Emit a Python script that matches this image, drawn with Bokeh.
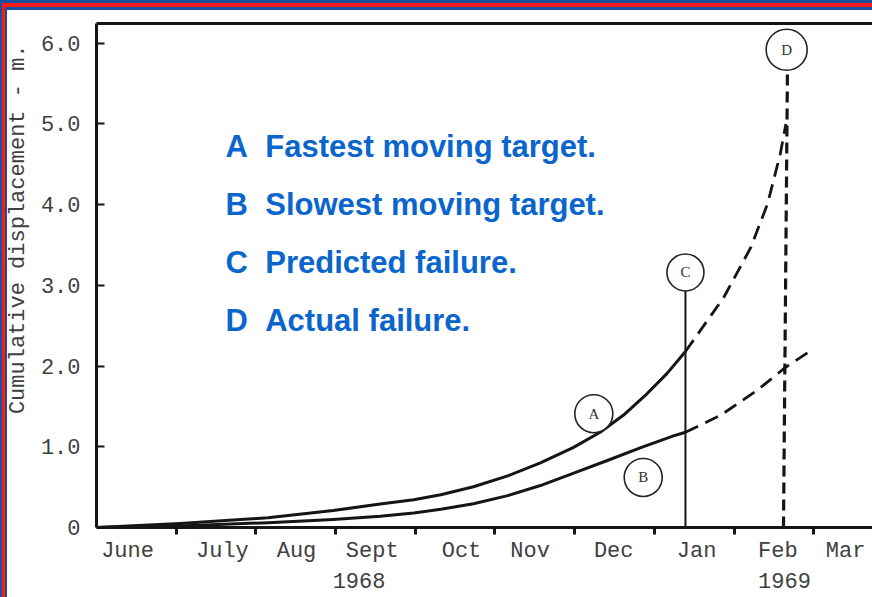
from bokeh.plotting import figure
from bokeh.models import FixedTicker, LinearAxis, Label, Range1d
from bokeh.core.properties import value
from bokeh.embed import file_html
from bokeh.resources import INLINE

# ---------------- data ----------------
months = ["June", "July", "Aug", "Sept", "Oct", "Nov", "Dec", "Jan", "Feb", "Mar"]
month_label_pos = [0.39, 1.58, 2.51, 3.46, 4.58, 5.44, 6.49, 7.53, 8.55, 9.40]
month_bounds = [1, 2, 3, 4, 5, 6, 7, 8, 9]
year_under = {"Sept": "1968\u00a0\u00a0", "Feb": "\u00a01969"}

y_ticks = [0, 1, 2, 3, 4, 5, 6]
y_tick_labels = ["0", "1.0", "2.0", "3.0", "4.0", "5.0", "6.0"]
y_title = "Cumulative displacement - m."

# Curve A (fastest moving target), measured
a_x = [0, 1.05, 2.15, 2.97, 3.56, 3.98, 4.32, 4.73, 5.16, 5.57, 5.98, 6.32, 6.61, 6.91, 7.16, 7.39]
a_y = [0, 0.05, 0.12, 0.21, 0.29, 0.345, 0.405, 0.505, 0.64, 0.80, 0.99, 1.18, 1.39, 1.66, 1.91, 2.18]
# Curve A extrapolated (dashed)
a_ext_x = [7.39, 7.87, 8.21, 8.42, 8.58, 8.65]
a_ext_y = [2.18, 2.85, 3.47, 4.01, 4.63, 5.00]

# Curve B (slowest moving target), measured
b_x = [0, 1.05, 2.15, 2.97, 3.56, 3.98, 4.32, 4.73, 5.16, 5.57, 5.98, 6.41, 6.83, 7.24, 7.39]
b_y = [0, 0.02, 0.06, 0.10, 0.14, 0.18, 0.225, 0.295, 0.395, 0.52, 0.67, 0.83, 0.99, 1.135, 1.18]
# Curve B extrapolated (dashed)
b_ext_x = [7.39, 7.83, 8.29, 8.64, 8.93]
b_ext_y = [1.18, 1.39, 1.70, 1.98, 2.17]

# C: predicted failure, D: actual failure
c_line_x = [7.39, 7.39]
c_line_y = [0, 2.94]
d_line_x = [8.62, 8.67]
d_line_y = [0, 5.68]

marker_text = ["A", "B", "C", "D"]
marker_x = [6.24, 6.86, 7.39, 8.66]
marker_y = [1.41, 0.62, 3.16, 5.92]
marker_size = [38, 38, 37, 41]

legend_lines = ["A\u00a0\u00a0Fastest moving target.", "B\u00a0\u00a0Slowest moving target.",
                "C\u00a0\u00a0Predicted failure.", "D\u00a0\u00a0Actual failure."]
legend_y = [4.72, 4.00, 3.28, 2.565]

# ---------------- figure ----------------
INK = "#151515"
TYPE = "#404040"
MONO = "Liberation Mono"
BLUE_FRAME = "#1a4f9e"
RED_FRAME = "#ff1a1a"

p = figure(width=872, height=597, x_range=Range1d(0, 9.737), y_range=Range1d(0, 6.245),
           output_backend="svg", toolbar_location=None,
           min_border_left=96, min_border_right=0, min_border_top=23, min_border_bottom=70)
p.outline_line_color = None
p.grid.visible = False
p.background_fill_color = "white"
p.border_fill_color = None

p.styles = {
    "background-color": "white",
    "box-shadow": (f"inset 2px 0 0 0 {BLUE_FRAME}, inset 0 3px 0 0 {BLUE_FRAME}, "
                   f"inset 5px 0 0 0 {RED_FRAME}, inset 0 7px 0 0 {RED_FRAME}, "
                   f"inset 7px 0 0 0 {BLUE_FRAME}, inset 0 10px 0 0 {BLUE_FRAME}"),
}

# x axis
xa = p.xaxis[0]
xa.ticker = FixedTicker(ticks=month_label_pos, minor_ticks=month_bounds)
xa.major_label_overrides = {
    pos: (name + "\n" + year_under[name]) if name in year_under else name
    for pos, name in zip(month_label_pos, months)
}
xa.major_tick_line_color = None
xa.major_tick_in = 0
xa.major_tick_out = 0
xa.minor_tick_in = 0
xa.minor_tick_out = 7
xa.minor_tick_line_width = 3
xa.minor_tick_line_color = INK
xa.axis_line_width = 3
xa.axis_line_color = INK
xa.major_label_standoff = 4
xa.major_label_text_font = MONO
xa.major_label_text_font_size = "22px"
xa.major_label_text_color = TYPE
xa.major_label_text_line_height = 1.25

# y axis
ya = p.yaxis[0]
ya.ticker = FixedTicker(ticks=y_ticks)
ya.major_label_overrides = {t: s for t, s in zip(y_ticks, y_tick_labels)}
ya.major_tick_in = 8
ya.major_tick_out = 0
ya.major_tick_line_width = 2
ya.major_tick_line_color = INK
ya.minor_tick_line_color = None
ya.axis_line_width = 3
ya.axis_line_color = INK
ya.major_label_standoff = 16
ya.major_label_text_font = MONO
ya.major_label_text_font_size = "22px"
ya.major_label_text_color = TYPE
ya.axis_label = "\u00a0" * 7 + y_title
ya.axis_label_text_font = MONO
ya.axis_label_text_font_style = "normal"
ya.axis_label_text_font_size = "22px"
ya.axis_label_text_color = TYPE
ya.axis_label_standoff = 7

# top frame line
top = LinearAxis(ticker=FixedTicker(ticks=[]), axis_line_width=3, axis_line_color=INK,
                 major_tick_line_color=None, minor_tick_line_color=None)
p.add_layout(top, "above")

# curves
p.line(a_x, a_y, line_width=3, line_color=INK, line_join="round")
p.line(b_x, b_y, line_width=3, line_color=INK, line_join="round")
p.line(a_ext_x, a_ext_y, line_width=2.8, line_color=INK, line_dash="14 8")
p.line(b_ext_x, b_ext_y, line_width=2.8, line_color=INK, line_dash="14 8")
p.line(c_line_x, c_line_y, line_width=2, line_color=INK)
p.line(d_line_x, d_line_y, line_width=3.2, line_color=INK, line_dash="11 6")

# circled letters
p.scatter(marker_x, marker_y, size=marker_size, marker="circle", fill_color="white",
          line_color="#222222", line_width=1.6)
p.text(marker_x, marker_y, text=marker_text, text_font=value("Liberation Serif"),
       text_font_size="15px", text_align="center", text_baseline="middle", text_color="#333333")

# legend text
for t, yy in zip(legend_lines, legend_y):
    p.add_layout(Label(x=1.62, y=yy, text=t, text_font="Liberation Sans", text_font_style="bold",
                       text_font_size="31px", text_color="#0a66cc", text_baseline="alphabetic"))

open("out.html", "w").write(file_html(p, INLINE))
